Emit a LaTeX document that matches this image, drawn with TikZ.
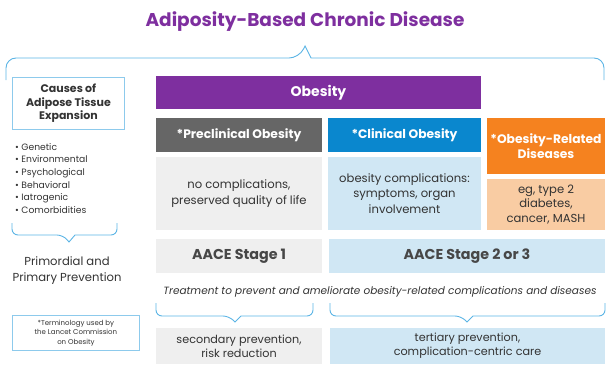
\documentclass[tikz,border=0pt]{standalone}
\usepackage{fontspec}
\setmainfont{Poppins}
\usetikzlibrary{positioning}

\definecolor{abcdpurple}{HTML}{7E2F9F}
\definecolor{predark}{HTML}{666666}
\definecolor{clinblue}{HTML}{0A87CE}
\definecolor{relorange}{HTML}{F5821F}
\definecolor{palegray}{HTML}{EFEFEF}
\definecolor{paleblue}{HTML}{D0E7F4}
\definecolor{palepeach}{HTML}{F9CCA3}
\definecolor{bracecol}{HTML}{5BB4E5}
\definecolor{framecol}{HTML}{8DCAEC}
\definecolor{inkgray}{HTML}{333333}

\tikzset{
  cell/.style={anchor=north west, inner sep=0pt, outer sep=0pt, align=center,
    text=inkgray, font=\fontsize{11.6}{15.5}\selectfont},
  headcell/.style={cell, text=white, font=\fontsize{12.3}{15}\selectfont\bfseries},
  stagecell/.style={cell, text=inkgray!90, font=\fontsize{14.3}{16}\selectfont\bfseries},
  bracket/.style={draw=bracecol, line width=0.9pt},
  framebox/.style={anchor=north west, draw=framecol, line width=0.8pt, fill=white,
    inner sep=0pt, align=center, text=inkgray}
}

\begin{document}
\begin{tikzpicture}[x=1pt, y=-1pt]
  \useasboundingbox (0,0) rectangle (615,372);

  % title and top bracket
  \node (title) at (305,22) {\fontsize{18.5}{20}\selectfont\bfseries\color{abcdpurple}Adiposity-Based Chronic Disease};
  \draw [bracket] (6,80) [rounded corners=10pt] -- (6,58) -- (299,58) [sharp corners] -- (305,46) -- (311,58) [rounded corners=10pt] -- (604,58) -- (604,80);

  % left column
  \node [framebox, minimum width=112pt, minimum height=52pt, font=\fontsize{11}{13.5}\selectfont\bfseries] (causes) at (12,77)
    {Causes of\\Adipose Tissue\\Expansion};
  \node [anchor=north west, inner sep=0pt, align=left, text=inkgray, font=\fontsize{9.2}{12.6}\selectfont] (factors) at (15,143)
    {• Genetic\\• Environmental\\• Psychological\\• Behavioral\\• Iatrogenic\\• Comorbidities};
  \draw [bracket] (12,223) [rounded corners=6pt] -- (12,235) -- (63,235) [sharp corners] -- (69,242) -- (75,235) [rounded corners=6pt] -- (117,235) -- (117,223);
  \node [align=center, text=inkgray, font=\fontsize{11.6}{16}\selectfont] (primary) at (67,271)
    {Primordial and\\Primary Prevention};
  \node [framebox, minimum width=127pt, minimum height=35pt, font=\fontsize{7}{9.5}\selectfont] (lancet) at (12,315)
    {*Terminology used by\\the Lancet Commission\\on Obesity};

  % obesity columns
  \node [headcell, fill=abcdpurple, minimum width=325pt, minimum height=33pt, font=\fontsize{14}{16}\selectfont\bfseries] (obesity) at (156,76) {Obesity};
  \node [headcell, fill=predark, minimum width=166pt, minimum height=34pt] (preclin) at (156,118) {*Preclinical Obesity};
  \node [headcell, fill=clinblue, minimum width=153pt, minimum height=34pt] (clin) at (328,118) {*Clinical Obesity};
  \node [headcell, fill=relorange, minimum width=118pt, minimum height=56pt] (related) at (487,118) {*Obesity-Related\\Diseases};

  \node [cell, fill=palegray, minimum width=166pt, minimum height=73pt] (nocomp) at (156,157)
    {no complications,\\preserved quality of life};
  \node [cell, fill=paleblue, minimum width=153pt, minimum height=73pt] (comp) at (328,157)
    {obesity complications:\\symptoms, organ\\involvement};
  \node [cell, fill=palepeach, minimum width=118pt, minimum height=51pt, font=\fontsize{11.6}{14.5}\selectfont] (eg) at (487,179)
    {eg, type 2\\diabetes,\\cancer, MASH};

  \node [stagecell, fill=palegray, minimum width=166pt, minimum height=34pt] (stageone) at (156,239) {AACE Stage 1};
  \node [stagecell, fill=paleblue, minimum width=276pt, minimum height=34pt] (stagetwo) at (329,239) {AACE Stage 2 or 3};

  \node [text=inkgray, font=\fontsize{10.5}{12}\selectfont\itshape] (treat) at (380,292)
    {Treatment to prevent and ameliorate obesity-related complications and diseases};

  \draw [bracket] (156,303) [rounded corners=6pt] -- (156,316) -- (229,316) [sharp corners] -- (235,322) -- (241,316) [rounded corners=6pt] -- (313,316) -- (313,303);
  \draw [bracket] (330,303) [rounded corners=6pt] -- (330,316) -- (461,316) [sharp corners] -- (467,322) -- (473,316) [rounded corners=6pt] -- (605,316) -- (605,303);

  \node [cell, fill=palegray, minimum width=166pt, minimum height=36pt, font=\fontsize{11.2}{14}\selectfont] (secondary) at (156,328)
    {secondary prevention,\\risk reduction};
  \node [cell, fill=paleblue, minimum width=275pt, minimum height=36pt, font=\fontsize{11.2}{14}\selectfont] (tertiary) at (330,328)
    {tertiary prevention,\\complication-centric care};
\end{tikzpicture}
\end{document}
